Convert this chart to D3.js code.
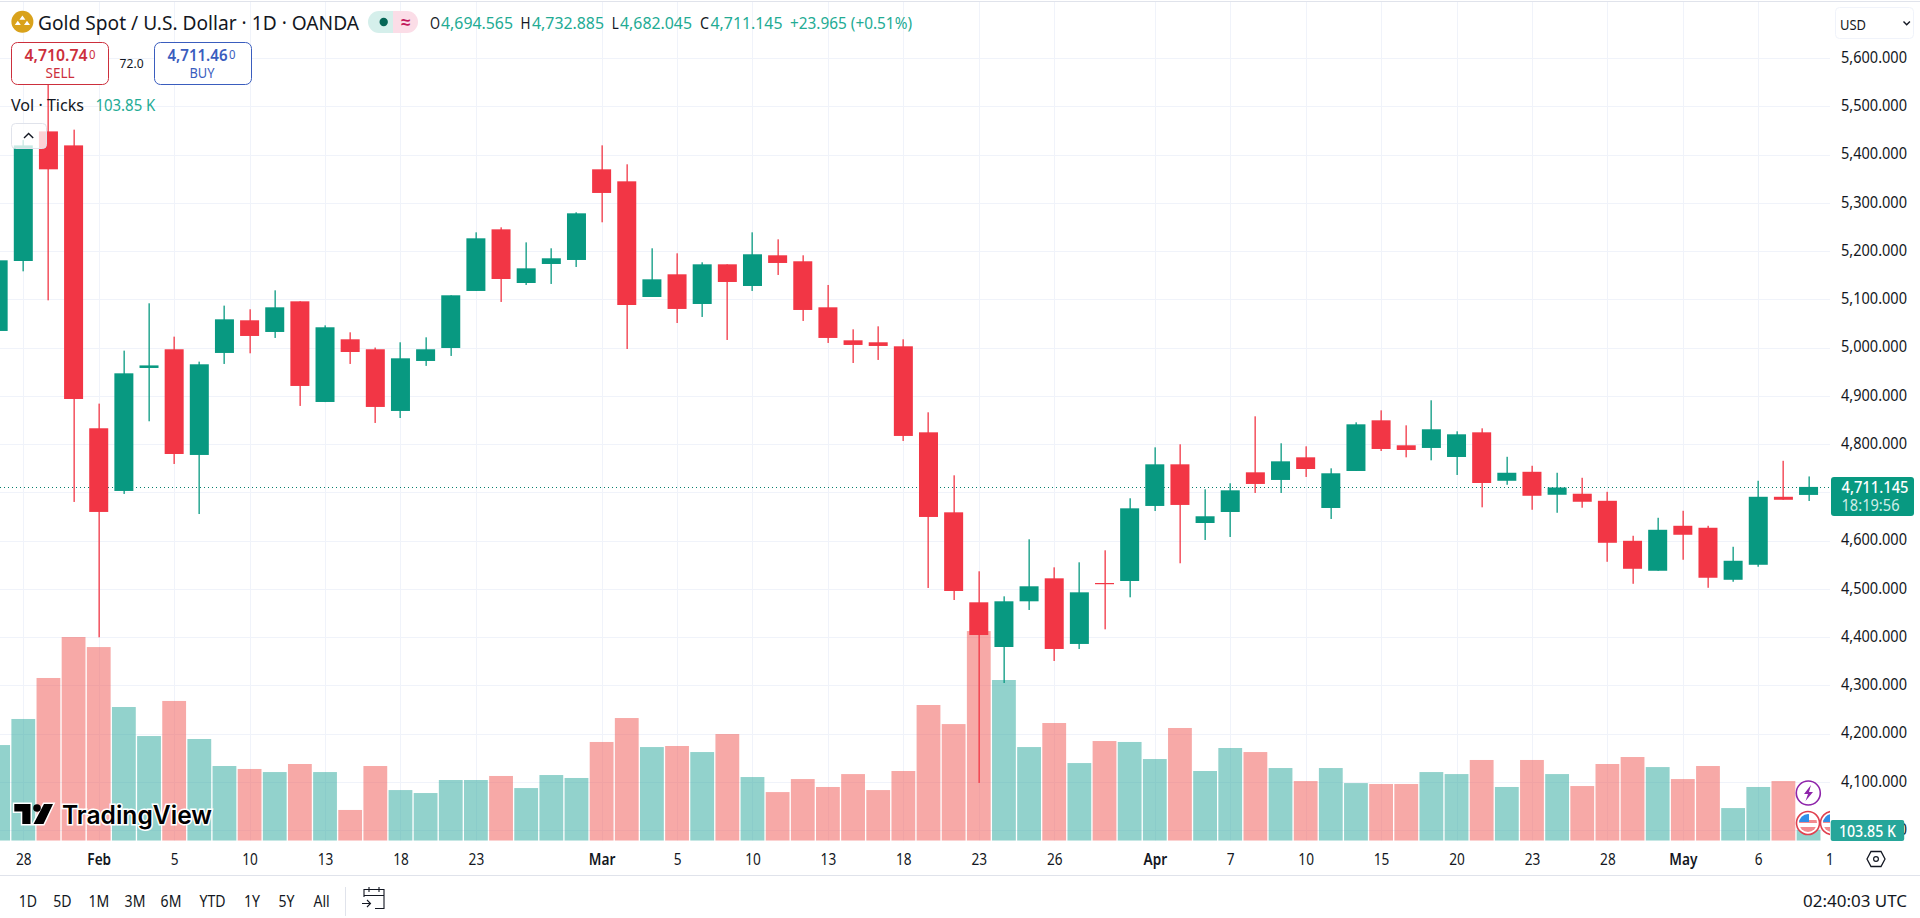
<!DOCTYPE html>
<html><head><meta charset="utf-8">
<script src="https://cdn.jsdelivr.net/npm/d3@7"></script>
<style>
html,body{margin:0;padding:0;background:#fff;overflow:hidden}
svg{display:block}
text{font-family:"Noto Sans",sans-serif;fill:#131722}
</style></head><body>
<svg id="c" width="1920" height="918"></svg>
<script>
const days=["Jan 27","Jan 28","Jan 29","Jan 30","Feb 2","Feb 3","Feb 4","Feb 5","Feb 6","Feb 9","Feb 10","Feb 11","Feb 12","Feb 13","Feb 16","Feb 17","Feb 18","Feb 19","Feb 20","Feb 23","Feb 24","Feb 25","Feb 26","Feb 27","Mar 2","Mar 3","Mar 4","Mar 5","Mar 6","Mar 9","Mar 10","Mar 11","Mar 12","Mar 13","Mar 16","Mar 17","Mar 18","Mar 19","Mar 20","Mar 23","Mar 24","Mar 25","Mar 26","Mar 27","Mar 30","Mar 31","Apr 1","Apr 2","Apr 6","Apr 7","Apr 8","Apr 9","Apr 10","Apr 13","Apr 14","Apr 15","Apr 16","Apr 17","Apr 20","Apr 21","Apr 22","Apr 23","Apr 24","Apr 27","Apr 28","Apr 29","Apr 30","May 1","May 4","May 5","May 6","May 7","May 8","May 11"];
const opens=[5034.4,5179.4,5448,5419,4832.7,4702.8,4957.7,4996.4,4777.4,4988.8,5056.5,5032.3,5095.8,4887.2,5017.1,4996.4,4868.6,4972.2,4999.1,5117.3,5245,5133.8,5173.2,5181.5,5369.4,5344.5,5104.8,5151.8,5090.3,5172.5,5127.6,5191.2,5178.8,5083.4,5015,5010.9,5002.6,4824.3,4658.5,4472,4379.4,4474.1,4521.7,4385.7,4512,4516.2,4671.7,4758,4636.4,4659.2,4741.4,4725.6,4772.5,4667.5,4744.2,4849.2,4797.4,4791.9,4773.2,4824.3,4723.9,4742.5,4694.9,4697,4682.4,4599.5,4537.4,4630.6,4626.5,4518.7,4549.8,4690.7,4694.565];
const highs=[5190,5430,5590,5451.6,4883.8,4993.6,5091.7,5022.6,4970.8,5086.9,5079.3,5118.6,5096,5046,5031.6,5000,5010.9,5021.2,5108.3,5238.8,5249.2,5218,5205.7,5280.3,5419.1,5379.8,5205.7,5195.3,5176.7,5172.5,5238.8,5224.3,5191.2,5129.7,5037.8,5044,5017.1,4865.8,4735.2,4536.3,4484.4,4602.6,4544.5,4554.9,4579.8,4687.6,4793.2,4799.5,4706.2,4718.7,4857.5,4801.6,4795.3,4749.7,4845,4869.9,4838.8,4890.7,4826.4,4832.6,4773.6,4755,4740.5,4730.1,4701,4609.9,4647.2,4661.7,4630.6,4587.1,4723.9,4765.3,4732.885];
const lows=[5030,5158,5097.9,4680,4399.5,4696.6,4847.2,4758.7,4655,4966,4988.1,5019.9,4879,4887,4966,4843.7,4854,4962,4982.6,5117.3,5094.5,5129.7,5131.8,5167,5259.6,4997,5104.8,5050.9,5063.4,5015.7,5117.3,5150.4,5055.1,5009.5,4968,4974.3,4806.4,4501.7,4476.8,4097.6,4304.8,4456.1,4350.4,4375.3,4416,4482.4,4661.3,4552.9,4601.2,4607.4,4698.6,4698.6,4731.8,4644.7,4744.2,4785.6,4772.5,4766.3,4735.9,4668.9,4715.6,4663.8,4657.6,4668,4556,4510.4,4537.4,4560.2,4502.1,4514.6,4545.7,4684.5,4682.045];
const closes=[5180.8,5419,5369.4,4893.4,4659.3,4946.6,4963,4779.4,4965.3,5058.5,5024,5083.4,4920.4,5042,4990.8,4876.9,4977.7,4996.4,5108.3,5226.4,5142.1,5164.2,5185,5278.2,5320.4,5088.2,5141.4,5080,5172.5,5135.9,5193.3,5175.3,5077.9,5019.9,5005.4,5003.3,4816.8,4648.9,4495.5,4404.3,4474.1,4505.2,4375.3,4492.7,4510,4666.8,4758,4673.8,4650.3,4704.1,4717.3,4764.2,4748.3,4739.4,4840.9,4789.8,4787.7,4830.6,4820.2,4719.3,4740.5,4692.8,4710,4680.4,4595.4,4541.5,4622.3,4612,4522.9,4558.1,4690.7,4684.5,4711.145];
const volumes=[903,1149,1536,1923,1828,1262,988,1319,960,705,677,648,724,648,290,705,478,450,573,573,611,497,620,592,932,1158,884,894,837,1007,601,459,582,507,629,478,658,1281,1101,1979,1517,884,1111,733,941,932,771,1064,658,875,837,686,563,686,544,535,535,648,629,762,507,762,629,516,724,790,695,582,705,308,507,563,103.85];
const priceTicks=[5600,5500,5400,5300,5200,5100,5000,4900,4800,4700,4600,4500,4400,4300,4200,4100,4000];
const priceLabels=[5600,5500,5400,5300,5200,5100,5000,4900,4800,4600,4500,4400,4300,4200,4100,4000];
const timeTickDays=["Jan 28","Feb 2","Feb 5","Feb 10","Feb 13","Feb 18","Feb 23","Mar 2","Mar 5","Mar 10","Mar 13","Mar 18","Mar 23","Mar 26","Apr 1","Apr 7","Apr 10","Apr 15","Apr 20","Apr 23","Apr 28","May 1","May 6","May 11"];
const timeTickLabels=["28","Feb","5","10","13","18","23","Mar","5","10","13","18","23","26","Apr","7","10","15","20","23","28","May","6","11"];
const boldTicks=["Feb","Mar","Apr","May"];
const rangeButtons=["1D","5D","1M","3M","6M","YTD","1Y","5Y","All"];
const lastPrice=4711.145;

const UP="#089981",DOWN="#F23645",VUP="#26A69A",VDOWN="#EF5350",GRID="#F0F3FA",INK="#131722";
const PLOT_R=1830,BASE=840.7,NARROW=0.88;
const svg=d3.select("#c");
const x=d3.scalePoint().domain(days).range([-1.85,1833.7]);
const y=d3.scaleLinear().domain([4700,5500]).range([492.3,106.3]);
const v=d3.scaleLinear().domain([0,1923]).range([BASE,BASE-203.7]);

function squeeze(sel){
  sel.each(function(){const l=this.getComputedTextLength();d3.select(this).attr("textLength",l*NARROW).attr("lengthAdjust","spacingAndGlyphs");});
}
function T(s,px,py,size,opt={}){
  const t=svg.append("text").attr("x",px).attr("y",py).attr("font-size",size).attr("dominant-baseline","central").text(s);
  if(opt.fill)t.style("fill",opt.fill);
  if(opt.anchor)t.attr("text-anchor",opt.anchor);
  if(opt.weight)t.attr("font-weight",opt.weight);
  if(opt.w)t.attr("textLength",opt.w).attr("lengthAdjust","spacingAndGlyphs");
  return t;
}
const defs=svg.append("defs");
defs.append("clipPath").attr("id","plot").append("rect").attr("x",0).attr("y",2).attr("width",PLOT_R).attr("height",BASE-2);

// grid
const plot=svg.append("g").attr("clip-path","url(#plot)");
plot.append("g").selectAll("line").data(priceTicks).join("line")
  .attr("x1",0).attr("x2",PLOT_R).attr("y1",d=>Math.round(y(d))+.5).attr("y2",d=>Math.round(y(d))+.5).attr("stroke",GRID);
plot.append("g").selectAll("line").data(timeTickDays).join("line")
  .attr("x1",d=>Math.round(x(d))+.5).attr("x2",d=>Math.round(x(d))+.5).attr("y1",2).attr("y2",BASE).attr("stroke",GRID);

const rows=opens.map((o,i)=>({day:days[i],o,h:highs[i],l:lows[i],c:closes[i],vol:volumes[i],up:closes[i]>=o}));
// volume
plot.append("g").selectAll("rect").data(rows).join("rect")
  .attr("x",d=>x(d.day)-11.9).attr("width",23.8)
  .attr("y",d=>v(d.vol)).attr("height",d=>BASE-v(d.vol))
  .attr("fill",d=>d.up?VUP:VDOWN).attr("fill-opacity",.5);
// price line
plot.append("line").attr("x1",0).attr("x2",PLOT_R).attr("y1",Math.round(y(lastPrice))+.5).attr("y2",Math.round(y(lastPrice))+.5)
  .attr("stroke","#067F6C").attr("stroke-dasharray","1 3");
// candles
const cg=plot.append("g").selectAll("g").data(rows).join("g");
cg.append("rect").attr("x",d=>Math.round(x(d.day))-.5).attr("width",1.3)
  .attr("y",d=>y(d.h)).attr("height",d=>y(d.l)-y(d.h)).attr("fill",d=>d.up?UP:DOWN);
cg.append("rect").attr("x",d=>x(d.day)-9.5).attr("width",19)
  .attr("y",d=>Math.min(y(d.o),y(d.c))).attr("height",d=>Math.max(1.2,Math.abs(y(d.o)-y(d.c))))
  .attr("fill",d=>d.up?UP:DOWN);

// frame lines
svg.append("line").attr("x1",0).attr("x2",1920).attr("y1",1.5).attr("y2",1.5).attr("stroke","#E0E3EB");
svg.append("line").attr("x1",0).attr("x2",1920).attr("y1",875.5).attr("y2",875.5).attr("stroke","#E0E3EB");

// axes
const yAxis=svg.append("g").attr("transform","translate(1831,-0.7)").call(d3.axisRight(y).tickValues(priceLabels).tickSize(0).tickPadding(10).tickFormat(d3.format(",.3f")));
yAxis.select(".domain").remove();
yAxis.selectAll("text").attr("font-size",15.5).attr("textLength",66).attr("lengthAdjust","spacingAndGlyphs").style("font-family",'"Noto Sans",sans-serif').style("fill",INK);

const lab=new Map(timeTickDays.map((d,i)=>[d,timeTickLabels[i]]));
const xAxis=svg.append("g").attr("transform","translate(0,850)").call(d3.axisBottom(x).tickValues(timeTickDays).tickSize(0).tickPadding(0).tickFormat(d=>lab.get(d)));
xAxis.select(".domain").remove();
xAxis.selectAll("text").attr("font-size",15.5).attr("y",9).attr("dy",0).attr("dominant-baseline","central")
  .attr("font-weight",d=>boldTicks.includes(lab.get(d))?600:400).style("font-family",'"Noto Sans",sans-serif').style("fill",INK);
xAxis.selectAll(".tick").filter(d=>d==="May 11").each(function(){d3.select(this).select("text").attr("text-anchor","end").attr("dx",-.5).text("1")});
squeeze(xAxis.selectAll("text"));

// header
svg.append("circle").attr("cx",22.4).attr("cy",21.7).attr("r",11).attr("fill","#D9A21B");
svg.append("path").attr("d","M22.4 15.5l3 4.2h-6zM17.8 20.8l3 4.2h-6zM27 20.8l3 4.2h-6z").attr("fill","#fff");
T("Gold Spot / U.S. Dollar · 1D · OANDA",38,23,19,{w:321});
svg.append("rect").attr("x",368).attr("y",11).attr("width",25).attr("height",22).attr("rx",11).attr("fill","#D5EFEB");
svg.append("rect").attr("x",380).attr("y",11).attr("width",13).attr("height",22).attr("fill","#D5EFEB");
svg.append("rect").attr("x",393).attr("y",11).attr("width",25).attr("height",22).attr("rx",11).attr("fill","#FBDDE7");
svg.append("rect").attr("x",393).attr("y",11).attr("width",13).attr("height",22).attr("fill","#FBDDE7");
svg.append("circle").attr("cx",383.7).attr("cy",22).attr("r",4.2).attr("fill","#056656");
T("≈",405.6,21,17,{fill:"#C2185B",anchor:"middle",weight:700});
const TEAL="#22AB94";
[["O",430,10],["H",520.4,10],["L",611.7,7],["C",700,9]].forEach(a=>T(a[0],a[1],23,15.5,{w:a[2]}));
[["4,694.565",441,72],["4,732.885",532,72],["4,682.045",620,72],["4,711.145",710.5,72],["+23.965 (+0.51%)",790,122]].forEach(a=>T(a[0],a[1],23,15.5,{fill:TEAL,w:a[2]}));

// sell / buy
const RED="#CC2F3C",BLUE="#3A5DBE";
svg.append("rect").attr("x",11.5).attr("y",42.5).attr("width",97).attr("height",42).attr("rx",6).attr("fill","#fff").attr("stroke",RED);
svg.append("rect").attr("x",154.5).attr("y",42.5).attr("width",97).attr("height",42).attr("rx",6).attr("fill","#fff").attr("stroke",BLUE);
T("4,710.74",24.5,55,15.5,{fill:RED,weight:600,w:63});
T("0",89,54,12,{fill:RED,w:6.5});
T("SELL",60,72,14,{fill:RED,anchor:"middle",w:29});
T("4,711.46",167.5,55,15.5,{fill:BLUE,weight:600,w:60});
T("0",229,54,12,{fill:BLUE,w:6.5});
T("BUY",202,72,14,{fill:BLUE,anchor:"middle",w:25});
T("72.0",131.6,62.5,13,{anchor:"middle",w:24});
T("Vol · Ticks",11,105,15.5,{w:73});
T("103.85 K",95.4,105,15.5,{fill:TEAL,w:60});

// collapse button
svg.append("rect").attr("x",11.5).attr("y",123.5).attr("width",35).attr("height",25).attr("rx",4).attr("fill","#fff").attr("fill-opacity",.78).attr("stroke","#E0E3EB");
svg.append("path").attr("d","M24 138l4.6-4.6 4.6 4.6").attr("fill","none").attr("stroke",INK).attr("stroke-width",1.4);

// USD
svg.append("rect").attr("x",1835.5).attr("y",7.5).attr("width",78).attr("height",31).attr("rx",4).attr("fill","#fff").attr("stroke","#F0F3FA");
T("USD",1840,24,15,{w:26});
svg.append("path").attr("d","M1903.5 21.5l3.2 3.2 3.2-3.2").attr("fill","none").attr("stroke",INK).attr("stroke-width",1.4);

// last price tag
svg.append("rect").attr("x",1831).attr("y",477).attr("width",83).attr("height",39).attr("rx",3).attr("fill",UP);
T(d3.format(",.3f")(lastPrice),1841.5,487,15.5,{fill:"#fff",weight:500,w:67});
T("18:19:56",1841.5,505,15.5,{fill:"#CFEDE8",w:58});

// markers
const mk=svg.append("g").attr("clip-path","url(#plot)");
mk.append("circle").attr("cx",1808.3).attr("cy",793).attr("r",12).attr("fill","#fff").attr("stroke","#8E24AA").attr("stroke-width",1.6);
mk.append("path").attr("d","M1811 785l-7 9h4l-2.5 7 7.5-9h-4z").attr("fill","#8E24AA");
defs.append("clipPath").attr("id","flag").append("circle").attr("cx",0).attr("cy",0).attr("r",9);
[1808,1832].forEach(cx=>{
  const g=mk.append("g").attr("transform",`translate(${cx},823)`);
  g.append("circle").attr("r",11.5).attr("fill","#fff").attr("stroke","#E0404F").attr("stroke-width",1.6);
  const f=g.append("g").attr("clip-path","url(#flag)");
  f.append("rect").attr("x",-10).attr("y",-10).attr("width",20).attr("height",20).attr("fill","#fff");
  f.append("rect").attr("x",-10).attr("y",-3).attr("width",20).attr("height",3).attr("fill","#F28B8F");
  f.append("rect").attr("x",-10).attr("y",4).attr("width",20).attr("height",6).attr("fill","#F28B8F");
  f.append("rect").attr("x",-10).attr("y",-10).attr("width",11).attr("height",9).attr("fill","#2F8FE8");
});

// volume tag
svg.append("rect").attr("x",1830.7).attr("y",820).attr("width",73.5).attr("height",21).attr("rx",2).attr("fill",VUP);
T("103.85 K",1867.4,830.5,15.5,{fill:"#fff",anchor:"middle",weight:500,w:57});

// settings icon
svg.append("path").attr("d","M1867 859l4-7.5h10l4 7.5-4 7.5h-10z").attr("fill","none").attr("stroke",INK).attr("stroke-width",1.3);
svg.append("circle").attr("cx",1876).attr("cy",859).attr("r",2.4).attr("fill","none").attr("stroke",INK).attr("stroke-width",1.2);

// logo
const logo=svg.append("g");
logo.append("path").attr("d","M14.3 804H30.5V824H22.3V811.5H14.3Z M44 804H53L43.5 824H33.5Z").attr("fill","#000").attr("stroke","#fff").attr("stroke-width",3).attr("paint-order","stroke");
logo.append("circle").attr("cx",37).attr("cy",808).attr("r",3.8).attr("fill","#000");
T("TradingView",62,815,25,{w:150,weight:600}).style("font-family","Inter,sans-serif").style("stroke","#fff").style("stroke-width",3).style("paint-order","stroke").style("fill","#000");

// bottom bar
const btnX=[27.8,62.4,98.8,135,171,212.6,252,286.5,321.6];
rangeButtons.forEach((b,i)=>squeeze(T(b,btnX[i],900.5,16,{anchor:"middle"})));
svg.append("line").attr("x1",345.5).attr("x2",345.5).attr("y1",887).attr("y2",916).attr("stroke","#E0E3EB");
svg.append("path").attr("d","M364 897v-7.5h20v19h-9M364 895.5h20M369 887v5M379 887v5M362 903.5h8M367 900l3.5 3.5-3.5 3.5").attr("fill","none").attr("stroke",INK).attr("stroke-width",1.1);
T("02:40:03 UTC",1907,900.5,16,{anchor:"end",w:104});
</script>
</body></html>
